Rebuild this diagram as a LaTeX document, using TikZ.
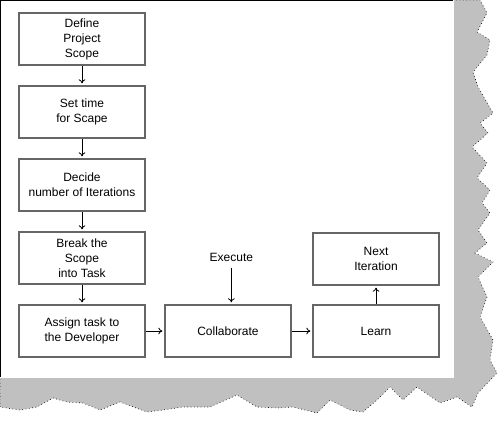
\documentclass[tikz,border=0pt]{standalone}
\usepackage{fontspec}
\setmainfont{Liberation Sans}
\usetikzlibrary{arrows.meta,positioning}
\definecolor{boxGray}{HTML}{666666}
\definecolor{tornGray}{HTML}{C0C0C0}

\begin{document}
\begin{tikzpicture}[x=0.75pt, y=-0.75pt, font=\fontsize{9}{11.25}\selectfont,
    stage/.style={draw=boxGray, line width=1.1pt, minimum width=94.5pt, minimum height=39pt, align=center, inner sep=2pt, outer sep=0pt},
    flow/.style={-{To[length=3pt,width=5pt]}, line width=0.6pt, shorten >=2pt, shorten <=1pt}]
    \fill[white] (0,0) rectangle (504,421);
    \useasboundingbox (0,0) rectangle (504,421);
    % torn page shadow
    \filldraw[fill=tornGray, draw=black, dotted, line width=0.5pt]
        (453,0) -- (480,0) -- (487,13) -- (477,32) -- (490,40) -- (487,55) -- (473,72) -- (478,87)
        -- (493,113) -- (480,123) -- (488,133) -- (472,147) -- (487,163) -- (477,178) -- (490,190)
        -- (482,203) -- (490,213) -- (478,230) -- (487,243) -- (475,253) -- (493,262) -- (478,277)
        -- (487,297) -- (480,317) -- (493,340) -- (490,360) -- (497,373) -- (478,393) -- (472,407)
        -- (457,397) -- (440,403) -- (417,387) -- (403,400) -- (390,387) -- (377,400) -- (363,412)
        -- (350,410) -- (330,400) -- (317,413) -- (293,407) -- (277,408) -- (257,407) -- (237,395)
        -- (210,407) -- (183,407) -- (163,410) -- (147,412) -- (120,402) -- (100,410) -- (83,403)
        -- (67,402) -- (53,398) -- (37,407) -- (20,410) -- (0,407) -- (0,377) -- (453,377) -- cycle;
    \fill[white] (0,0) rectangle (454,377.5);
    \draw[line width=1.1pt] (0,377) -- (0,0.7) -- (453,0.7);

    \node[stage] (scope) at (82,39) {Define\\Project\\Scope};
    \node[stage, below=15.75pt of scope] (time) {Set time\\for Scape};
    \node[stage, below=15.75pt of time] (iter) {Decide\\number of Iterations};
    \node[stage, below=15.75pt of iter] (task) {Break the\\Scope\\into Task};
    \node[stage, below=15.75pt of task] (assign) {Assign task to\\the Developer};
    \node[stage, right=15pt of assign] (collab) {Collaborate};
    \node[stage, right=16.5pt of collab] (learn) {Learn};
    \node[stage, above=15pt of learn] (next) {Next\\Iteration};
    \node[above=29pt of collab, xshift=2.5pt] (exec) {Execute};

    \draw[flow] (scope) -- (time);
    \draw[flow] (time) -- (iter);
    \draw[flow] (iter) -- (task);
    \draw[flow] (task) -- (assign);
    \draw[flow] (assign) -- (collab);
    \draw[flow] (collab) -- (learn);
    \draw[flow] (learn) -- (next);
    \draw[flow] (exec.south) -- (exec.south |- collab.north);
\end{tikzpicture}
\end{document}
